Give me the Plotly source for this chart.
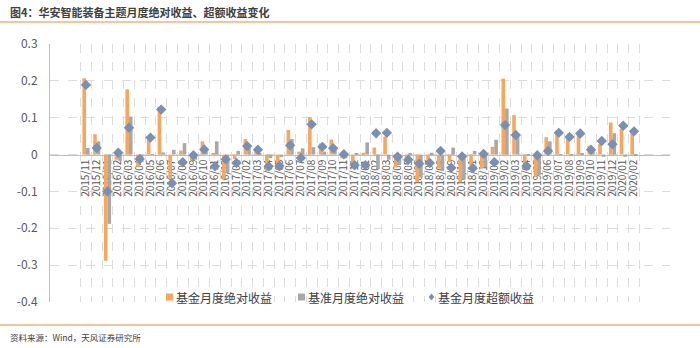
import plotly.graph_objects as go

months = ["2015/11", "2015/12",
          "2016/01", "2016/02", "2016/03", "2016/04", "2016/05", "2016/06",
          "2016/07", "2016/08", "2016/09", "2016/10", "2016/11", "2016/12",
          "2017/01", "2017/02", "2017/03", "2017/04", "2017/05", "2017/06",
          "2017/07", "2017/08", "2017/09", "2017/10", "2017/11", "2017/12",
          "2018/01", "2018/02", "2018/03", "2018/04", "2018/05", "2018/06",
          "2018/07", "2018/08", "2018/09", "2018/10", "2018/11", "2018/12",
          "2019/01", "2019/02", "2019/03", "2019/04", "2019/05", "2019/06",
          "2019/07", "2019/08", "2019/09", "2019/10", "2019/11", "2019/12",
          "2020/01", "2020/02"]

fund_abs = [0.207, 0.055, -0.288, -0.014, 0.177, -0.033, 0.047, 0.130,
            -0.066, 0.011, -0.016, 0.036, 0.004, -0.066, -0.012, 0.042,
            0.016, -0.045, -0.040, 0.067, 0.008, 0.102, 0.030, 0.041,
            -0.010, -0.023, 0.005, 0.019, 0.049, -0.035, -0.009, -0.075,
            -0.017, -0.038, -0.020, -0.075, -0.030, -0.037, 0.021, 0.206,
            0.107, -0.039, -0.059, 0.047, 0.060, 0.043, 0.063, 0.024,
            0.029, 0.087, 0.070, 0.063]

bench_abs = [0.018, 0.036, -0.188, -0.017, 0.103, -0.020, 0.001, 0.006,
             0.013, 0.031, -0.014, 0.012, 0.036, -0.050, 0.010, 0.019,
             0.003, -0.010, -0.007, 0.042, 0.017, 0.020, 0.008, 0.013,
             -0.010, 0.004, 0.033, -0.039, -0.014, -0.028, 0.004, -0.062,
             0.005, -0.045, 0.019, -0.068, 0.010, -0.035, 0.040, 0.125,
             0.052, -0.004, -0.056, 0.036, 0.001, -0.004, 0.003, 0.012,
             -0.006, 0.058, -0.006, -0.002]

fund_excess = [0.189, 0.018, -0.100, 0.005, 0.073, -0.012, 0.046, 0.122,
               -0.078, -0.021, -0.002, 0.014, -0.032, -0.013, -0.023, 0.023,
               0.013, -0.032, -0.031, 0.025, -0.009, 0.082, 0.021, 0.017,
               0.001, -0.029, -0.029, 0.058, 0.059, -0.006, -0.014, -0.025,
               -0.023, 0.010, -0.036, -0.005, -0.037, 0.002, -0.021, 0.080,
               0.053, -0.031, -0.002, 0.010, 0.059, 0.048, 0.057, 0.013,
               0.037, 0.028, 0.078, 0.063]

y_ticks = [0.3, 0.2, 0.1, 0, -0.1, -0.2, -0.3, -0.4]
y_tick_labels = ["0.3", "0.2", "0.1", "0", "-0.1", "-0.2", "-0.3", "-0.4"]

series_names = ["基金月度绝对收益", "基准月度绝对收益", "基金月度超额收益"]
title_text = "图4：华安智能装备主题月度绝对收益、超额收益变化"
source_text = "资料来源：Wind，天风证券研究所"

ORANGE = "#F7A65E"
GRAY = "#A8A8A8"
BLUE = "#7990B3"
FONT = "Noto Sans CJK SC"

fig = go.Figure()
fig.add_trace(go.Bar(x=months, y=fund_abs, name=series_names[0],
                     marker=dict(color=ORANGE, line=dict(width=0))))
fig.add_trace(go.Bar(x=months, y=bench_abs, name=series_names[1],
                     marker=dict(color=GRAY, line=dict(width=0))))
fig.add_trace(go.Scatter(x=months, y=fund_excess, name=series_names[2],
                         mode="markers",
                         marker=dict(symbol="diamond", size=8, color=BLUE)))

# plot area in pixels: x 50..670, y 44..302
W, H = 700, 348
L, R, T, B = 50, 30, 44, 46
pw, ph = W - L - R, H - T - B

def px_x(p):
    return (p - L) / pw

def px_y(p):
    return (H - B - p) / ph

ymin, ymax = -0.4, 0.3

fig.update_layout(
    width=W, height=H,
    margin=dict(l=L, r=R, t=T, b=B),
    paper_bgcolor="white", plot_bgcolor="white",
    font=dict(family=FONT, size=11, color="#595959"),
    barmode="group", bargap=0.33, bargroupgap=0,
    showlegend=False,
    xaxis=dict(type="category", categoryorder="array", categoryarray=months,
               tickmode="array", tickvals=months, ticktext=months,
               anchor="free", position=(0 - ymin) / (ymax - ymin),
               tickangle=-90, tickfont=dict(size=10, color="#595959"),
               showline=True, linecolor="#BFBFBF", linewidth=1,
               showgrid=True, gridcolor="#DDDDDD", griddash="dash", gridwidth=1,
               tickson="boundaries", ticks="", zeroline=False,
               layer="below traces"),
    yaxis=dict(range=[ymin, ymax], domain=[0, 1],
               tickvals=y_ticks, ticktext=y_tick_labels,
               tickfont=dict(size=12, color="#595959"),
               ticklabelstandoff=9,
               showline=True, linecolor="#BFBFBF", linewidth=1,
               showgrid=True, gridcolor="#DDDDDD", griddash="dash", gridwidth=1,
               zeroline=False, ticks=""),
)

# legend drawn manually (compact symbol + text like the original)
leg_y = 297
leg_items = [(166, ORANGE, "square", series_names[0]),
             (298, GRAY, "square", series_names[1]),
             (428, BLUE, "diamond", series_names[2])]
for x0, col, kind, label in leg_items:
    if kind == "square":
        fig.add_shape(type="rect", xref="paper", yref="paper",
                      x0=px_x(x0), x1=px_x(x0 + 7),
                      y0=px_y(leg_y + 3.5), y1=px_y(leg_y - 3.5),
                      fillcolor=col, line=dict(width=0))
    else:
        cx, cy, r = x0 + 3.5, leg_y, 3.5
        path = "M {} {} L {} {} L {} {} L {} {} Z".format(
            px_x(cx), px_y(cy - r), px_x(cx + r * 0.8), px_y(cy),
            px_x(cx), px_y(cy + r), px_x(cx - r * 0.8), px_y(cy))
        fig.add_shape(type="path", xref="paper", yref="paper", path=path,
                      fillcolor=col, line=dict(width=0))
    fig.add_annotation(text=label, xref="paper", yref="paper",
                       x=px_x(x0 + 8), y=px_y(leg_y), xanchor="left",
                       yanchor="middle", showarrow=False,
                       font=dict(family=FONT, size=12, color="#404040"))

fig.add_annotation(text="<b>" + title_text + "</b>", xref="paper", yref="paper",
                   x=px_x(8), y=px_y(12), xanchor="left", yanchor="middle",
                   showarrow=False, font=dict(family=FONT, size=11, color="#404040"))
fig.add_annotation(text=source_text, xref="paper", yref="paper",
                   x=px_x(8), y=px_y(337), xanchor="left", yanchor="middle",
                   showarrow=False, font=dict(family=FONT, size=8.5, color="#404040"))

fig.add_shape(type="line", xref="paper", yref="paper",
              x0=px_x(0), x1=px_x(700), y0=px_y(22), y1=px_y(22),
              line=dict(color="#F4B183", width=1.5))
fig.add_shape(type="line", xref="paper", yref="paper",
              x0=px_x(0), x1=px_x(700), y0=px_y(325), y1=px_y(325),
              line=dict(color="#F4B183", width=1.5))

fig.write_html("out.html")
